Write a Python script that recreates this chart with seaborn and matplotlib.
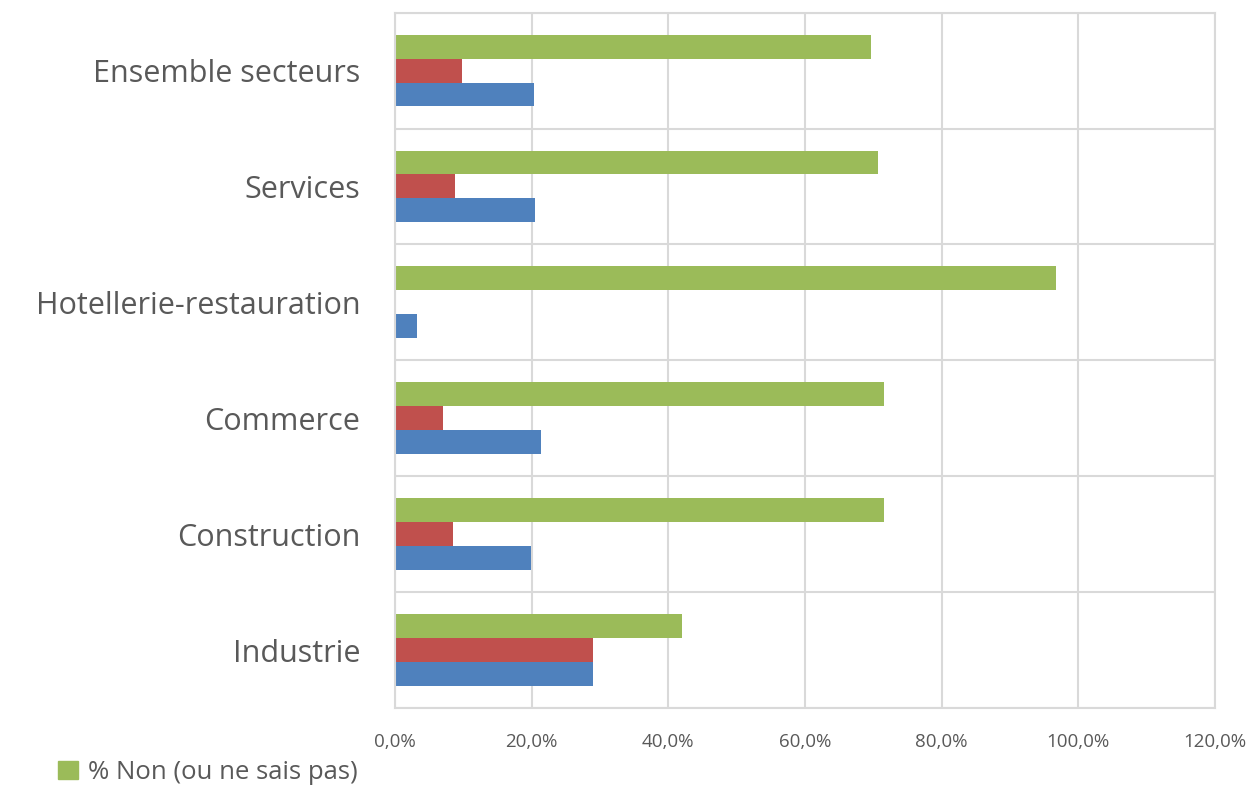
import pandas as pd
import seaborn as sns
import matplotlib.pyplot as plt
from matplotlib.ticker import FuncFormatter, FixedLocator
from matplotlib.patches import Patch

sns.set_theme(style="white")
plt.rcParams["font.family"] = ["Open Sans", "DejaVu Sans"]

secteurs = ["Ensemble secteurs", "Services", "Hotellerie-restauration",
            "Commerce", "Construction", "Industrie"]
non = [69.7, 70.7, 96.7, 71.6, 71.6, 42.0]
oui_partiel = [9.8, 8.8, 0.0, 7.0, 8.5, 29.0]
oui = [20.3, 20.5, 3.2, 21.4, 19.9, 29.0]

series = ["% Non (ou ne sais pas)", "% Oui, en partie", "% Oui"]
colors = ["#9BBB59", "#C0504D", "#4F81BD"]

data = pd.DataFrame({
    "secteur": secteurs * 3,
    "valeur": non + oui_partiel + oui,
    "serie": [series[0]] * 6 + [series[1]] * 6 + [series[2]] * 6,
})

fig, ax = plt.subplots(figsize=(12.56, 7.86), dpi=100)
fig.subplots_adjust(left=0.3145, right=0.9674, top=0.984, bottom=0.099)

sns.barplot(
    ax=ax, data=data, y="secteur", x="valeur", hue="serie",
    hue_order=series, order=secteurs, palette=colors,
    orient="h", width=0.62, gap=0, saturation=1, legend=False,
    linewidth=0,
)

ax.set_xlim(0, 120)
ax.set_ylim(len(secteurs) - 0.5, -0.5)
ax.set_xticks(range(0, 121, 20))
ax.xaxis.set_major_formatter(FuncFormatter(lambda v, p: f"{v:.1f}%".replace(".", ",")))
ax.yaxis.set_minor_locator(FixedLocator([i - 0.5 for i in range(len(secteurs) + 1)]))

ax.grid(axis="x", which="major", color="#D9D9D9", linewidth=1.5)
ax.grid(axis="y", which="minor", color="#D9D9D9", linewidth=1.5)
ax.set_axisbelow(True)
for s in ax.spines.values():
    s.set_color("#D9D9D9")
    s.set_linewidth(1.5)

ax.tick_params(axis="x", labelsize=13.5, colors="#595959", pad=18, length=0)
ax.tick_params(axis="y", labelsize=22, colors="#595959", pad=25, length=0, which="both")
ax.set_xlabel("")
ax.set_ylabel("")

handles = [Patch(color=colors[0], label=series[0])]
fig.legend(handles=handles, loc="lower left", bbox_to_anchor=(0.028, -0.028),
           frameon=False, fontsize=18.5, handlelength=0.75, handleheight=0.75,
           handletextpad=0.4, labelcolor="#595959")

plt.savefig("out.png", dpi=100)
